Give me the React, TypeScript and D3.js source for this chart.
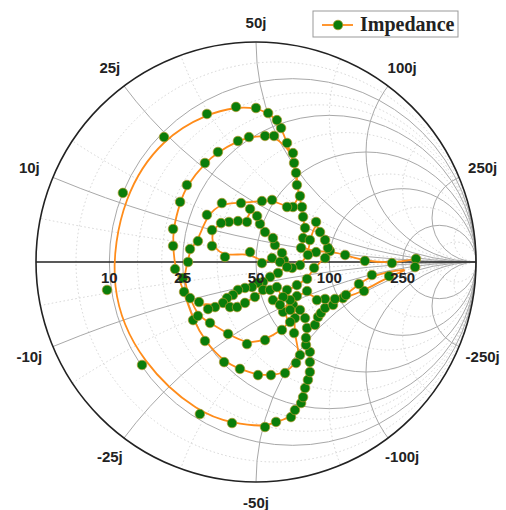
import React from 'react';
import * as d3 from 'd3';

// Smith chart, Z0 = 50 ohm. Data as reflection coefficient [re, im].
const Z0 = 50;
const majorValues = [0.2, 0.5, 1, 2, 5];
const minorResistance = [0.1, 0.3, 0.4, 0.7, 1.5, 3, 10];
const minorReactance = [0.1, 0.3, 0.7, 1.5, 3, 10];
const axisLabels = ['10', '25', '50', '100', '250'];
const rimLabels = ['10j', '25j', '50j', '100j', '250j'];
const rimLabelsNeg = ['-10j', '-25j', '-50j', '-100j', '-250j'];

// tail and outer loop
const sweepA: [number, number][] = [
  [0.727, 0.014], [0.618, -0.005], [0.495, 0.005], [0.405, 0.032], [0.336, 0.05], [0.273, 0.045],
  [0.205, 0.064], [0.214, 0.109], [0.223, 0.155], [0.214, 0.205], [0.209, 0.25],
  [0.186, 0.35], [0.173, 0.45], [0.141, 0.541], [0.114, 0.609],
  [0.095, 0.645], [0.055, 0.677], [0, 0.7], [-0.091, 0.705], [-0.223, 0.673], [-0.418, 0.568],
  [-0.605, 0.314], [-0.677, -0.127], [-0.518, -0.468], [-0.255, -0.691], [-0.109, -0.732],
  [0.041, -0.75], [0.091, -0.727], [0.159, -0.705], [0.177, -0.673], [0.205, -0.641],
  [0.214, -0.614], [0.223, -0.573], [0.236, -0.536], [0.245, -0.5], [0.245, -0.455],
  [0.245, -0.409], [0.227, -0.377], [0.227, -0.345], [0.232, -0.3], [0.268, -0.286],
  [0.282, -0.25], [0.295, -0.232], [0.314, -0.209], [0.35, -0.195], [0.395, -0.164],
  [0.491, -0.132], [0.605, -0.064], [0.723, -0.023],
];

// middle loop
const sweepB: [number, number][] = [
  [0.527, -0.059], [0.468, -0.1], [0.409, -0.15], [0.359, -0.168], [0.314, -0.168], [0.277, -0.173],
  [0.232, -0.132], [0.186, -0.155], [0.168, -0.195], [0.177, -0.255], [0.173, -0.323], [0.2, -0.423],
  [0.182, -0.459], [0.132, -0.505], [0.068, -0.514], [0.009, -0.514], [-0.073, -0.486],
  [-0.145, -0.455], [-0.232, -0.359], [-0.286, -0.264], [-0.327, -0.136], [-0.368, -0.032],
  [-0.377, 0.073], [-0.377, 0.15], [-0.345, 0.273], [-0.314, 0.35], [-0.232, 0.45], [-0.173, 0.5],
  [-0.082, 0.55], [-0.032, 0.568], [0.041, 0.573], [0.082, 0.573], [0.168, 0.495],
  [0.182, 0.405], [0.2, 0.3],
];

// inner loop
const sweepC: [number, number][] = [
  [0.168, 0.25], [0.141, 0.25], [0.073, 0.282], [0.027, 0.277], [-0.068, 0.268], [-0.155, 0.268],
  [-0.223, 0.214], [-0.264, 0.095], [-0.3, 0.059], [-0.309, 0], [-0.332, -0.073], [-0.3, -0.164],
  [-0.264, -0.245], [-0.209, -0.277], [-0.127, -0.327], [-0.041, -0.373], [0.041, -0.355],
  [0.118, -0.309], [0.155, -0.273], [0.123, -0.227], [0.155, -0.173], [0.141, -0.127], [0.186, -0.105],
];

// right-hand wiggle
const sweepD: [number, number][] = [
  [0.232, -0.077], [0.264, -0.027], [0.314, 0.018], [0.327, 0.064], [0.314, 0.1], [0.291, 0.136],
  [0.273, 0.182], [0.245, 0.1], [0.236, 0.032], [0.2, -0.014], [0.164, -0.027],
];

// diagonal and small inner arc
const sweepE: [number, number][] = [
  [0.127, 0.009], [0.118, 0.041], [0.086, 0.077], [0.077, 0.109], [0.041, 0.136], [0.018, 0.173],
  [0.005, 0.209], [-0.027, 0.241], [-0.041, 0.182], [-0.082, 0.186], [-0.123, 0.182], [-0.159, 0.177],
  [-0.2, 0.145], [-0.2, 0.073], [-0.141, 0.023], [-0.027, 0.045], [0.027, -0.005],
];

// centre cluster
const sweepF: [number, number][] = [
  [0.073, 0.018], [0.109, 0], [0.141, -0.023], [0.1, -0.05], [0.064, -0.068], [0.032, -0.091],
  [0.009, -0.095], [-0.018, -0.114], [-0.05, -0.118],
  [-0.082, -0.127], [-0.105, -0.15], [-0.132, -0.164], [-0.15, -0.186], [-0.186, -0.205],
  [-0.218, -0.214], [-0.259, -0.182], [-0.118, -0.205], [-0.086, -0.205], [-0.05, -0.186],
  [-0.005, -0.159], [0.032, -0.127], [0.064, -0.127], [0.095, -0.114], [0.123, -0.159],
  [0.077, -0.173], [0.109, -0.195], [0.155, -0.218], [0.2, -0.218], [0.223, -0.255],
];

const W = 506;
const H = 510;
const cx = 256;
const cy = 262;
const R = 220;

const gx = d3.scaleLinear().domain([-1, 1]).range([cx - R, cx + R]);
const gy = d3.scaleLinear().domain([-1, 1]).range([cy + R, cy - R]);

const labelFont = '"Liberation Sans", Arial, sans-serif';
const lineColor = '#ff8c1a';
const dotColor = '#0a7d0a';

export default function App() {
  const data = [...sweepA, ...sweepB, ...sweepC, ...sweepD, ...sweepE, ...sweepF];
  const line = d3.line<[number, number]>()
    .x(d => gx(d[0]))
    .y(d => gy(d[1]))
    .curve(d3.curveBasis);

  const resistCircle = (r: number, key: string, major: boolean) => (
    <circle key={key} cx={gx(r / (1 + r))} cy={gy(0)} r={gx(1 / (1 + r)) - gx(0)}
      fill="none" stroke={major ? '#a8a8a8' : '#cfcfcf'} strokeWidth={major ? 1 : 0.9}
      strokeDasharray={major ? undefined : '1.5,2.5'} />
  );
  const reactArc = (xv: number, key: string, major: boolean) => (
    <circle key={key} cx={gx(1)} cy={gy(1 / xv)} r={Math.abs(gx(1 / xv) - gx(0))}
      fill="none" stroke={major ? '#a8a8a8' : '#cfcfcf'} strokeWidth={major ? 1 : 0.9}
      strokeDasharray={major ? undefined : '1.5,2.5'} clipPath="url(#unit)" />
  );

  return (
    <svg width={W} height={H} style={{ position: 'absolute', left: 0, top: 0, background: '#fff' }}>
      <defs>
        <clipPath id="unit"><circle cx={cx} cy={cy} r={R} /></clipPath>
      </defs>
      <g>
        {minorResistance.map((r, i) => resistCircle(r, 'mr' + i, false))}
        {minorReactance.map((v, i) => reactArc(v, 'mxp' + i, false))}
        {minorReactance.map((v, i) => reactArc(-v, 'mxn' + i, false))}
        {majorValues.map((r, i) => resistCircle(r, 'r' + i, true))}
        {majorValues.map((v, i) => reactArc(v, 'xp' + i, true))}
        {majorValues.map((v, i) => reactArc(-v, 'xn' + i, true))}
      </g>
      <line x1={gx(-1)} x2={gx(1)} y1={gy(0)} y2={gy(0)} stroke="#222" strokeWidth={1.5} />
      <circle cx={cx} cy={cy} r={R} fill="none" stroke="#222" strokeWidth={1.6} />

      {majorValues.map((v, i) => {
        const th = Math.PI - 2 * Math.atan(v);
        const d = 240 + 6 * Math.abs(Math.cos(th));
        return [1, -1].map(s => (
          <text key={'rl' + i + s} x={cx + d * Math.cos(th)} y={cy - s * d * Math.sin(th)}
            textAnchor="middle" dominantBaseline="central" fontFamily={labelFont}
            fontWeight="bold" fontSize={15} fill="#222">
            {s > 0 ? rimLabels[i] : rimLabelsNeg[i]}
          </text>
        ));
      })}

      <path d={line(data) || ''} fill="none" stroke={lineColor} strokeWidth={1.8} />
      {data.map((d, i) => (
        <circle key={'p' + i} cx={gx(d[0])} cy={gy(d[1])} r={4.8} fill={dotColor}
          stroke="#b59a2a" strokeWidth={0.7} />
      ))}

      {majorValues.map((r, i) => (
        <text key={'al' + i} x={gx((r - 1) / (r + 1))} y={gy(0) + 15} textAnchor="middle"
          dominantBaseline="central" fontFamily={labelFont} fontWeight="bold" fontSize={15} fill="#222">
          {axisLabels[i]}
        </text>
      ))}

      <g transform="translate(313,11)">
        <rect x={0} y={0} width={145} height={26} fill="#fff" stroke="#999" strokeWidth={1} />
        <line x1={9} x2={40} y1={14} y2={14} stroke={lineColor} strokeWidth={1.8} />
        <circle cx={25} cy={14} r={4.8} fill={dotColor} stroke="#b59a2a" strokeWidth={0.7} />
        <text x={47} y={20} fontFamily='"Liberation Serif", "Times New Roman", serif'
          fontWeight="bold" fontSize={20} fill="#222">Impedance</text>
      </g>
    </svg>
  );
}
